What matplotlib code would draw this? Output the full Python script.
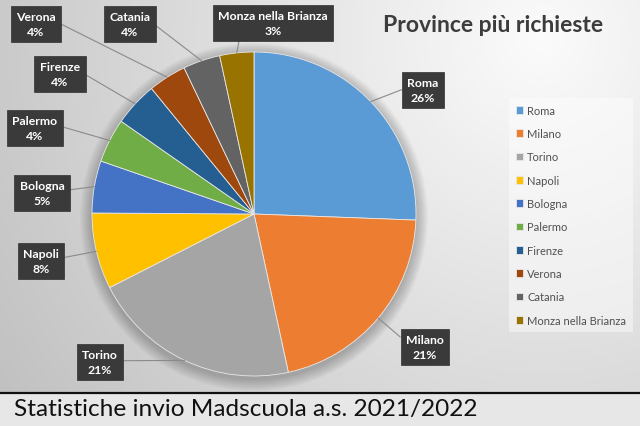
import numpy as np
import matplotlib
matplotlib.use("Agg")
import matplotlib.pyplot as plt
from matplotlib.patches import Rectangle, Circle

# dati (percentuali)
province = ["Roma", "Milano", "Torino", "Napoli", "Bologna", "Palermo",
            "Firenze", "Verona", "Catania", "Monza nella Brianza"]
quote = [25.6, 21.0, 20.9, 7.6, 5.2, 4.4, 4.4, 3.8, 3.7, 3.4]
etichette_pct = ["26%", "21%", "21%", "8%", "5%", "4%", "4%", "4%", "4%", "3%"]
colori = ["#5B9BD5", "#ED7D31", "#A5A5A5", "#FFC000", "#4472C4",
          "#70AD47", "#255E91", "#9E480E", "#636363", "#997300"]

titolo = "Province più richieste"
didascalia = "Statistiche invio Madscuola a.s. 2021/2022"

W, H = 640, 427
# posizione dei box etichetta (pixel, origine in alto) e punto di aggancio
pos_box = [(423, 91), (425, 348), (100, 363), (41, 262), (42, 194),
           (35, 129), (60, 75), (36, 25), (130, 25), (273, 24)]
aggancio = [(0, 0.6), (0, 0.7), (1, 0.55), (1, 0.6), (1, 0.6),
            (1, 0.6), (1, 0.6), (1, 0.6), (1, 0.6), (0.2, 0)]

plt.rcParams['font.family'] = ['Lato', 'DejaVu Sans']

fig = plt.figure(figsize=(W / 100, H / 100), dpi=100)
ax = fig.add_axes([0, 0, 1, 1])

# sfondo sfumato
yy, xx = np.mgrid[0:H, 0:W]
d = np.hypot(xx - 540, yy - 40) / 620.0
g = np.clip(0.985 - 0.22 * d, 0, 1)
ax.imshow(np.dstack([g, g, g]), extent=(0, W, 0, H), origin="upper",
          zorder=0, aspect="auto")

cx, cy, r = 254, H - 215, 162

# ombra morbida della torta
for k in range(12):
    ax.add_patch(Circle((cx, cy - 3), r + 12 - k, color="k",
                        alpha=0.02, lw=0, zorder=1))

wedges, _ = ax.pie(quote, colors=colori, startangle=90, counterclock=False,
                   center=(cx, cy), radius=r, frame=True,
                   wedgeprops=dict(linewidth=0.6, edgecolor="#e8e8e8"))
for w in wedges:
    w.set_zorder(2)
ax.set_xlim(0, W)
ax.set_ylim(0, H)
ax.set_aspect("equal")
ax.axis("off")

for w, nome, pct, (bx, by), rp in zip(wedges, province, etichette_pct,
                                      pos_box, aggancio):
    ang = np.deg2rad((w.theta1 + w.theta2) / 2)
    px = cx + r * np.cos(ang)
    py = cy + r * np.sin(ang)
    ax.annotate(nome + "\n" + pct, xy=(px, py), xytext=(bx, H - by),
                ha="center", va="center", color="white", fontsize=8.8,
                fontweight="bold", linespacing=1.35, zorder=5,
                bbox=dict(boxstyle="square,pad=0.45", fc="#3a3a3a",
                          ec="#303030", lw=0.5),
                arrowprops=dict(arrowstyle="-", color="#8a8a8a", lw=0.8,
                                relpos=rp, shrinkA=0, shrinkB=0))

ax.text(493, H - 25, titolo, ha="center", va="center", fontsize=16.5,
        fontweight="bold", color="#3c3c3c", zorder=5)

leg = ax.legend(wedges, province, loc="upper left",
                bbox_to_anchor=(509 / W, 1 - 99 / H), fontsize=8,
                frameon=True, handlelength=0.7, handleheight=0.7,
                handletextpad=0.35, labelspacing=1.11, borderpad=0.6,
                borderaxespad=0, fancybox=False)
leg.get_frame().set_facecolor("white")
leg.get_frame().set_alpha(0.45)
leg.get_frame().set_linewidth(0)
for t in leg.get_texts():
    t.set_color("#505050")
leg.set_zorder(4)

# fascia inferiore con didascalia
ax.add_patch(Rectangle((0, 0), W, H - 394, fc="#e7e7e7", ec="none", zorder=6))
ax.plot([0, W], [H - 394, H - 394], color="#111111", lw=1.6, zorder=7)
ax.text(14, H - 410, didascalia, ha="left", va="center", fontsize=17.6,
        color="#111111", zorder=7)

fig.savefig("out.png", dpi=100)
